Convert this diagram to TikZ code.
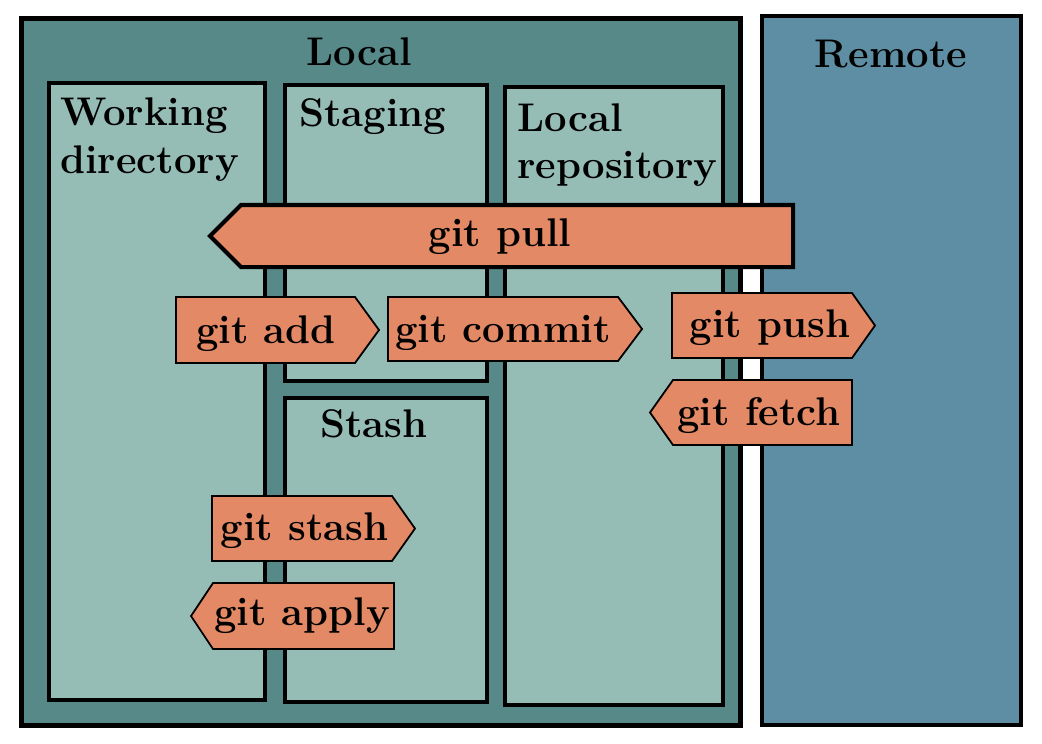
\documentclass[tikz,border=0pt]{standalone}
\definecolor{localbg}{HTML}{578989}
\definecolor{innerbg}{HTML}{95BDB5}
\definecolor{remotebg}{HTML}{5E8EA4}
\definecolor{btncol}{HTML}{E38965}
\begin{document}
\begin{tikzpicture}[x=0.5pt,y=-0.5pt,
  title/.style={font=\fontsize{20}{23.8}\selectfont\bfseries, inner sep=0pt, align=left},
  area/.style={draw=black, line width=2pt, fill=innerbg},
  btnshape/.style={draw=black, line width=0.9pt, fill=btncol, line join=miter},
  btntext/.style={font=\fontsize{20}{24}\selectfont\bfseries, inner sep=0pt, anchor=base}]
\useasboundingbox (0,0) rectangle (1042,743);
% containers
\draw[line width=2.5pt, fill=localbg] (21.5,18.5) rectangle (740,725);
\draw[line width=2pt, fill=remotebg] (762,16.5) rectangle (1021,724.5);
\draw[area] (49,83) rectangle (265,699.5);
\draw[area] (285,85.5) rectangle (486.5,380.5);
\draw[area] (285,397.5) rectangle (486.5,701.5);
\draw[area] (504.5,87.5) rectangle (722.5,704.5);
% titles
\node[title, anchor=base] (local) at (359,66) {Local};
\node[title, anchor=base] (remote) at (891,68) {Remote};
\node[title, anchor=base west] (wd) at (60,173.5) {Working\\directory};
\node[title, anchor=base west] (staging) at (299,127) {Staging};
\node[title, anchor=base west] (repo) at (517,179) {Local\\repository};
\node[title, anchor=base] (stash) at (374,437) {Stash};
% git pull
\draw[btnshape, line width=2pt] (241,205) -- (793,205) -- (793,267) -- (241,267) -- (210,236) -- cycle;
\node[btntext] (pull) at (500,246) {git pull};
% git add
\draw[btnshape] (176,297) -- (355,297) -- (379,330) -- (355,363) -- (176,363) -- cycle;
\node[btntext] (add) at (266,343) {git add};
% git commit
\draw[btnshape] (388,297) -- (618,297) -- (642,329) -- (618,361) -- (388,361) -- cycle;
\node[btntext] (commit) at (503,342) {git commit};
% git push
\draw[btnshape] (672,293) -- (852,293) -- (875,325.5) -- (852,358) -- (672,358) -- cycle;
\node[btntext] (push) at (770,337) {git push};
% git fetch
\draw[btnshape] (852,380) -- (673,380) -- (650,412.5) -- (673,445) -- (852,445) -- cycle;
\node[btntext] (fetch) at (759,425) {git fetch};
% git stash
\draw[btnshape] (212,496) -- (392,496) -- (415,528.5) -- (392,561) -- (212,561) -- cycle;
\node[btntext] (gstash) at (304.5,540) {git stash};
% git apply
\draw[btnshape] (394,583) -- (213,583) -- (191,616) -- (213,649) -- (394,649) -- cycle;
\node[btntext] (apply) at (302,625) {git apply};
\end{tikzpicture}
\end{document}
